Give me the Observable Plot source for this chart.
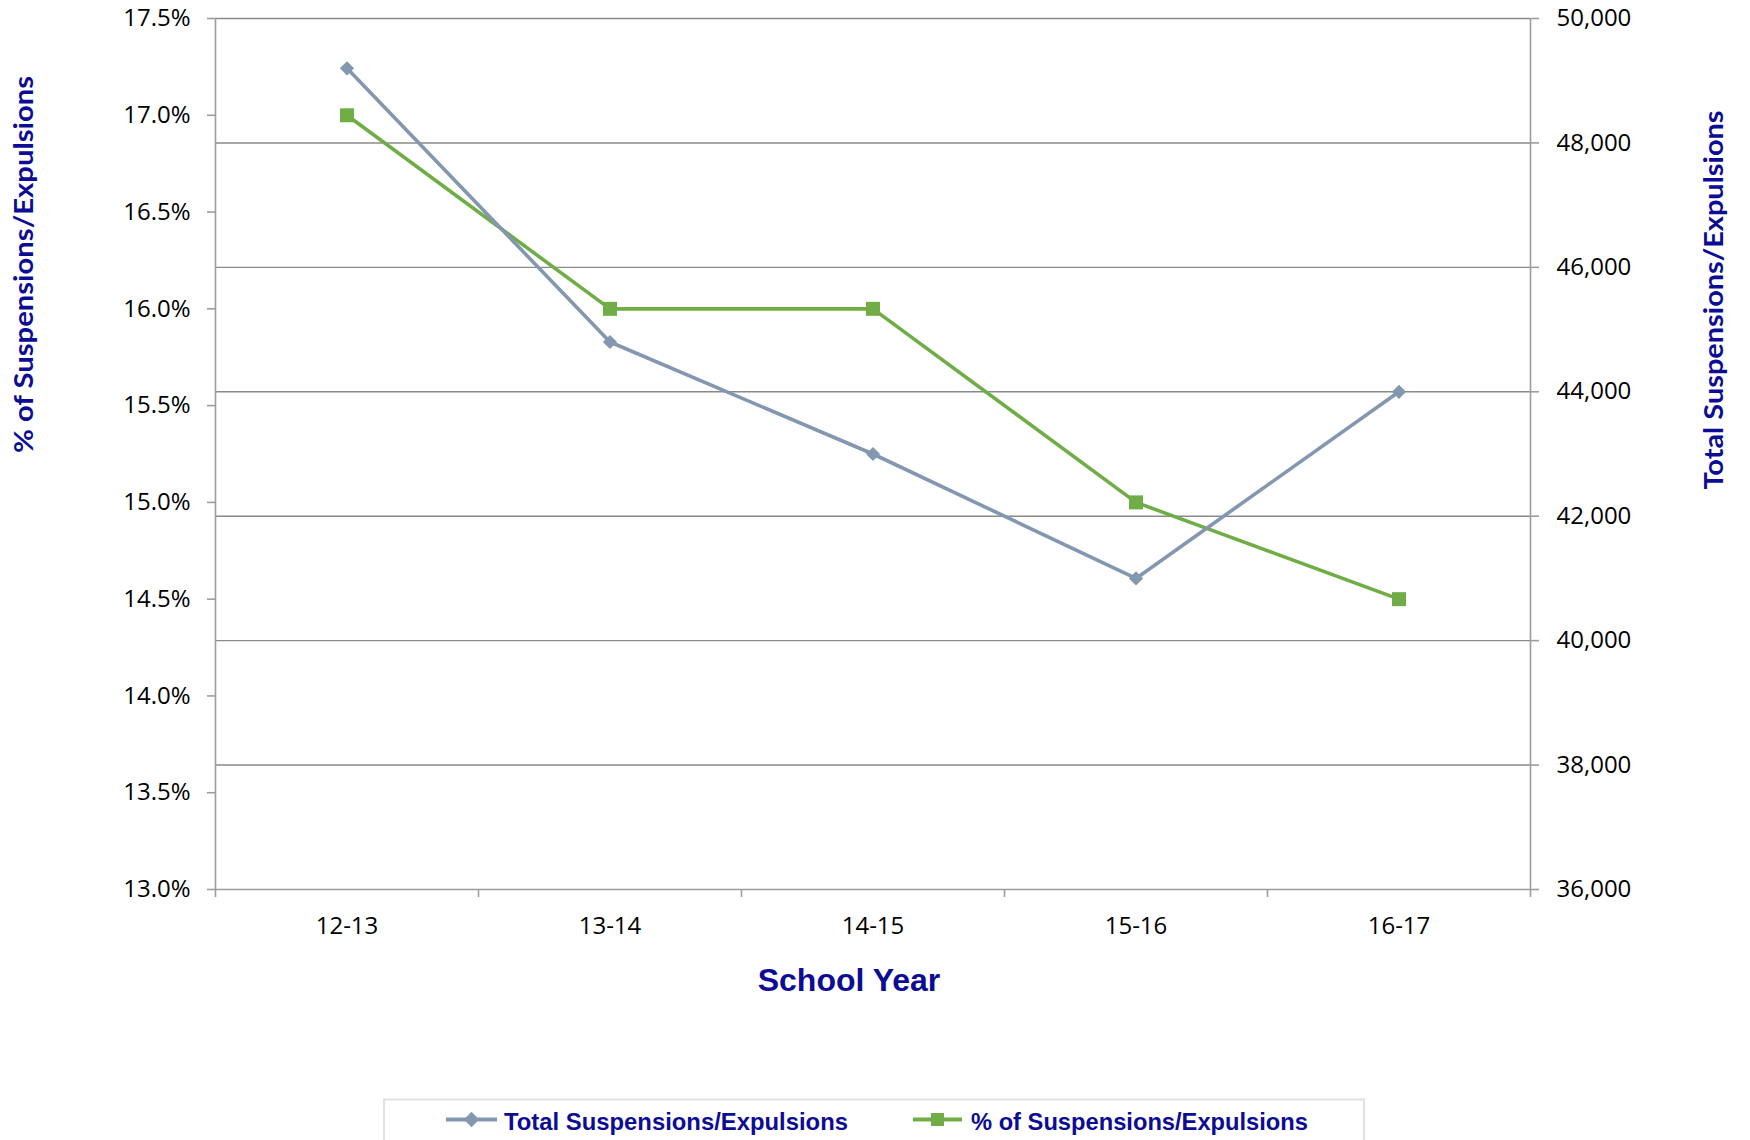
<!DOCTYPE html>
<html>
<head>
<meta charset="utf-8">
<script src="https://cdn.jsdelivr.net/npm/d3@7"></script>
<script src="https://cdn.jsdelivr.net/npm/@observablehq/plot@0.6"></script>
<style>
  body { margin: 0; background: #fff; }
  #chart svg { display: block; }
</style>
</head>
<body>
<div id="chart"></div>
<script>
// School years on the category axis
const years = ["12-13", "13-14", "14-15", "15-16", "16-17"];
// Total number of suspensions/expulsions (right axis)
const totalSuspensions = [49200, 44800, 43000, 41000, 44000];
// Share of students suspended/expelled, in percent (left axis)
const pctSuspensions = [17.0, 16.0, 16.0, 15.0, 14.5];
// Axis ticks
const pctTicks = [13.0, 13.5, 14.0, 14.5, 15.0, 15.5, 16.0, 16.5, 17.0, 17.5];
const totalTicks = [36000, 38000, 40000, 42000, 44000, 46000, 48000, 50000];

const navy = "#0c0c94";
const axisGray = "#9d9d9d";
const gridGray = "#8a8a8a";
const totalColor = "#8497B0";
const pctColor = "#70AD47";
const tickFont = { fontFamily: "'Open Sans', sans-serif", fontSize: 24 };

// The totals share the percent y scale through a linear mapping
const pctDomain = [13, 17.5];
const totalDomain = [36000, 50000];
const toPct = d3.scaleLinear(totalDomain, pctDomain);

const rows = years.map((year, i) => ({
  year,
  pos: i + 0.5,
  total: totalSuspensions[i],
  pct: pctSuspensions[i]
}));

const W = 1750, H = 1098;
const mLeft = 215, mRight = 220, mTop = 18, mBottom = 209;

const chart = Plot.plot({
  width: W,
  height: H,
  marginLeft: mLeft,
  marginRight: mRight,
  marginTop: mTop,
  marginBottom: mBottom,
  style: { fontFamily: "'Open Sans', sans-serif", fontSize: "24px", color: "black", background: "white" },
  x: { domain: [0, years.length], axis: null },
  y: { domain: pctDomain, axis: null },
  marks: [
    // horizontal gridlines at the right-axis ticks
    Plot.gridY(totalTicks.slice(1).map(toPct), { stroke: gridGray, strokeOpacity: 1, strokeWidth: 1.4 }),
    // axis lines
    Plot.ruleX([0, years.length], { stroke: axisGray, strokeWidth: 1.6 }),
    Plot.ruleY([pctDomain[0]], { stroke: axisGray, strokeWidth: 1.6 }),
    // left axis (percent)
    Plot.axisY(pctTicks, {
      anchor: "left", tickSize: 8, tickPadding: 17, label: null,
      stroke: axisGray, strokeWidth: 1.6, fill: "black", ...tickFont,
      tickFormat: d => d.toFixed(1) + "%"
    }),
    // right axis (totals)
    Plot.axisY(totalTicks.map(toPct), {
      anchor: "right", tickSize: 8, tickPadding: 18, label: null,
      stroke: axisGray, strokeWidth: 1.6, fill: "black", ...tickFont,
      tickFormat: d => d3.format(",")(Math.round(toPct.invert(d)))
    }),
    // category boundary ticks
    Plot.axisX(d3.range(years.length + 1), {
      anchor: "bottom", tickSize: 8, label: null,
      stroke: axisGray, strokeWidth: 1.6, tickFormat: () => ""
    }),
    // category labels
    Plot.axisX(rows.map(d => d.pos), {
      anchor: "bottom", tickSize: 0, tickPadding: 27, label: null, fill: "black", ...tickFont,
      tickFormat: d => years[Math.floor(d)]
    }),
    // percent series
    Plot.line(rows, { x: "pos", y: "pct", stroke: pctColor, strokeWidth: 3.6 }),
    Plot.dot(rows, { x: "pos", y: "pct", symbol: "square", r: 7.9, fill: pctColor, stroke: null }),
    // total series (drawn on top)
    Plot.line(rows, { x: "pos", y: d => toPct(d.total), stroke: totalColor, strokeWidth: 3.6 }),
    Plot.dot(rows, { x: "pos", y: d => toPct(d.total), symbol: "diamond2", r: 6.4, fill: totalColor, stroke: null }),
    // x axis title
    Plot.text(["School Year"], {
      text: d => d, frameAnchor: "bottom", dx: -24, dy: 101,
      fontSize: 32, fontWeight: "bold", fontFamily: "'Liberation Sans', Arial, sans-serif", fill: navy
    })
  ]
});

// Rotated y axis titles
const svg = d3.select(chart);
const yTitles = [
  { label: "% of Suspensions/Expulsions", x: 33, y: 264.5, len: 377 },
  { label: "Total Suspensions/Expulsions", x: 1723, y: 300, len: 379 }
];
for (const t of yTitles) {
  svg.append("text")
    .attr("transform", `translate(${t.x},${t.y}) rotate(-90)`)
    .attr("text-anchor", "middle")
    .attr("font-family", "Lato, 'Open Sans', sans-serif")
    .attr("font-weight", "bold")
    .attr("font-size", 27)
    .attr("textLength", t.len)
    .attr("lengthAdjust", "spacingAndGlyphs")
    .attr("fill", navy)
    .text(t.label);
}

const container = document.getElementById("chart");
container.appendChild(chart);

// Legend below the chart
const legendItems = [
  { label: "Total Suspensions/Expulsions", color: totalColor, symbol: d3.symbolDiamond2, size: 150, x0: 446, x1: 497, tx: 504, tlen: 344 },
  { label: "% of Suspensions/Expulsions", color: pctColor, symbol: d3.symbolSquare, size: 170, x0: 913, x1: 962, tx: 971, tlen: 337 }
];
const legend = d3.create("svg")
  .attr("width", W)
  .attr("height", 60)
  .style("display", "block");
legend.append("rect")
  .attr("x", 384).attr("y", 1.5)
  .attr("width", 980).attr("height", 70)
  .attr("fill", "white")
  .attr("stroke", "#e2e2e2")
  .attr("stroke-width", 2);
const ly = 21.5;
for (const it of legendItems) {
  const g = legend.append("g");
  g.append("line")
    .attr("x1", it.x0).attr("x2", it.x1)
    .attr("y1", ly).attr("y2", ly)
    .attr("stroke", it.color).attr("stroke-width", 4);
  g.append("path")
    .attr("transform", `translate(${(it.x0 + it.x1) / 2},${ly})`)
    .attr("d", d3.symbol(it.symbol, it.size)())
    .attr("fill", it.color);
  g.append("text")
    .attr("x", it.tx).attr("y", ly + 10)
    .attr("font-family", "'Liberation Sans', Arial, sans-serif")
    .attr("font-weight", "bold")
    .attr("font-size", 24.5)
    .attr("textLength", it.tlen)
    .attr("lengthAdjust", "spacingAndGlyphs")
    .attr("fill", navy)
    .text(it.label);
}
container.appendChild(legend.node());
</script>
</body>
</html>
